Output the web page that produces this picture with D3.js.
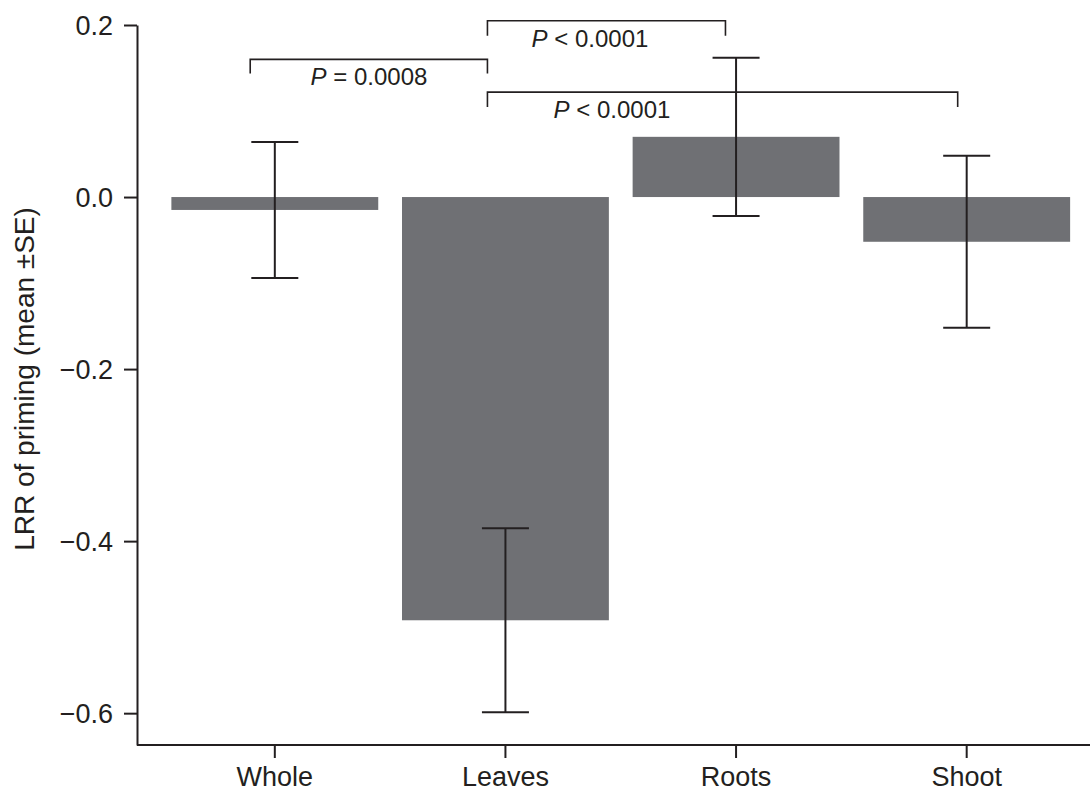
<!DOCTYPE html>
<html>
<head>
<meta charset="utf-8">
<script src="https://cdn.jsdelivr.net/npm/d3@7"></script>
<style>
  html, body { margin: 0; padding: 0; background: #fff; }
  svg { display: block; font-family: "Liberation Sans", Arial, Helvetica, sans-serif; }
</style>
</head>
<body>
<div id="chart"></div>
<script>
// LRR of priming by plant part, bars with ±SE
const categories = ['Whole', 'Leaves', 'Roots', 'Shoot'];
const means = [-0.015, -0.492, 0.070, -0.052];
const se = [0.079, 0.107, 0.092, 0.100];
const yTicks = [0.2, 0.0, -0.2, -0.4, -0.6];
const compFrom = ['Whole', 'Leaves', 'Leaves'];
const compTo = ['Leaves', 'Roots', 'Shoot'];
const compSign = ['=', '<', '<'];
const compP = ['0.0008', '0.0001', '0.0001'];
const compLevel = [0.160, 0.205, 0.122];

(function(){
  const width = 1092, height = 794;
  const margin = { top: 25, right: 2, bottom: 49, left: 137 };
  const ink = '#231f20';

  const svg = d3.select('#chart').append('svg')
    .attr('width', width).attr('height', height)
    .attr('viewBox', `0 0 ${width} ${height}`);

  const x = d3.scaleBand()
    .domain(categories)
    .range([159.5, 1082])
    .paddingInner(0.103)
    .paddingOuter(0.0515);

  const y = d3.scaleLinear()
    .domain([-0.637, 0.2])
    .range([height - margin.bottom, margin.top]);

  const rows = categories.map((c, i) => ({ cat: c, mean: means[i], se: se[i] }));

  // bars
  svg.append('g')
    .selectAll('rect')
    .data(rows)
    .enter().append('rect')
    .attr('x', d => x(d.cat))
    .attr('width', x.bandwidth())
    .attr('y', d => y(Math.max(0, d.mean)))
    .attr('height', d => Math.abs(y(d.mean) - y(0)))
    .attr('fill', '#6f7074');

  // error bars
  const cap = 23.5;
  const eb = svg.append('g').attr('stroke', ink).attr('stroke-width', 2).attr('fill', 'none');
  rows.forEach(d => {
    const cx = x(d.cat) + x.bandwidth() / 2;
    const y1 = y(d.mean + d.se), y2 = y(d.mean - d.se);
    eb.append('line').attr('x1', cx).attr('x2', cx).attr('y1', y1).attr('y2', y2);
    eb.append('line').attr('x1', cx - cap).attr('x2', cx + cap).attr('y1', y1).attr('y2', y1);
    eb.append('line').attr('x1', cx - cap).attr('x2', cx + cap).attr('y1', y2).attr('y2', y2);
  });

  // y axis
  const yAxis = svg.append('g')
    .attr('transform', `translate(${margin.left},0)`)
    .call(d3.axisLeft(y).tickValues(yTicks).tickFormat(d3.format('.1f')).tickSize(13).tickSizeOuter(0).tickPadding(11));
  yAxis.select('.domain').attr('stroke', ink).attr('stroke-width', 2);
  yAxis.selectAll('.tick line').attr('stroke', ink).attr('stroke-width', 2);
  yAxis.selectAll('.tick text').attr('fill', ink).style('font-size', '27px').attr('dy', '0.36em');

  // x axis
  const xAxis = svg.append('g')
    .attr('transform', `translate(0,${height - margin.bottom})`)
    .call(d3.axisBottom(x).tickSize(13).tickSizeOuter(0).tickPadding(9));
  xAxis.select('.domain').remove();
  xAxis.append('line')
    .attr('x1', margin.left).attr('x2', width - margin.right)
    .attr('stroke', ink).attr('stroke-width', 2);
  xAxis.selectAll('.tick line').attr('stroke', ink).attr('stroke-width', 2);
  xAxis.selectAll('.tick text').attr('fill', ink).style('font-size', '27px').attr('dy', '0.71em');

  // y title
  svg.append('text')
    .attr('transform', `translate(34,${379}) rotate(-90)`)
    .attr('text-anchor', 'middle')
    .attr('fill', ink)
    .style('font-size', '28px')
    .text('LRR of priming (mean \u00b1SE)');

  // significance brackets (per-bracket end offsets and label placement)
  const endOff = [[-24.6, -18], [-18, -10.6], [-18, -9]];
  const labelX = [369, 590, 612];
  const labelDy = [26, 26, 26];
  const drop = [14, 15, 15];
  const br = svg.append('g');
  compFrom.forEach((f, i) => {
    const xa = x(f) + x.bandwidth() / 2 + endOff[i][0];
    const xb = x(compTo[i]) + x.bandwidth() / 2 + endOff[i][1];
    const yl = y(compLevel[i]);
    br.append('path')
      .attr('d', `M${xa},${yl + drop[i]}V${yl}H${xb}V${yl + drop[i]}`)
      .attr('fill', 'none').attr('stroke', ink).attr('stroke-width', 1.6);
    const t = br.append('text')
      .attr('x', labelX[i]).attr('y', yl + labelDy[i])
      .attr('text-anchor', 'middle')
      .attr('fill', ink)
      .style('font-size', '24px');
    t.append('tspan').style('font-style', 'italic').text('P');
    t.append('tspan').text(` ${compSign[i]} ${compP[i]}`);
  });
})();
</script>
</body>
</html>
